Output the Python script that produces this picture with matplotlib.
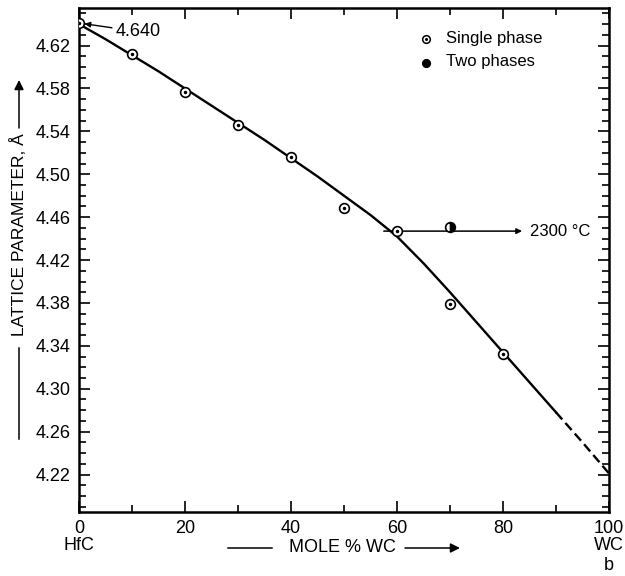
import matplotlib
matplotlib.use("Agg")
import matplotlib.pyplot as plt
from matplotlib.ticker import MultipleLocator

plt.rcParams['font.family'] = ['Liberation Sans', 'DejaVu Sans']

# Data
single_x = [0, 10, 20, 30, 40, 50, 60, 70, 80]
single_y = [4.641, 4.612, 4.577, 4.546, 4.516, 4.469, 4.447, 4.379, 4.332]
two_x = [70]
two_y = [4.451]
curve_x = [0, 5, 10, 15, 20, 25, 30, 35, 40, 45, 50, 55, 60, 65, 70, 75, 80, 85, 90]
curve_y = [4.640, 4.626, 4.611, 4.596, 4.580, 4.564, 4.548, 4.532, 4.515, 4.498,
           4.480, 4.462, 4.442, 4.417, 4.390, 4.362, 4.334, 4.306, 4.278]
dash_x = [90, 95, 100]
dash_y = [4.278, 4.250, 4.221]
xticks = [0, 20, 40, 60, 80, 100]
xticklabels = ['0', '20', '40', '60', '80', '100']
yticks = [4.22, 4.26, 4.30, 4.34, 4.38, 4.42, 4.46, 4.50, 4.54, 4.58, 4.62]
yticklabels = ['4.22', '4.26', '4.30', '4.34', '4.38', '4.42', '4.46', '4.50', '4.54', '4.58', '4.62']
temp_line_x = [57.5, 83.6]
temp_y = 4.447

fig = plt.figure(figsize=(6.25, 5.76), dpi=100)
ax = fig.add_axes([0.1264, 0.111, 0.848, 0.875])

ax.plot(curve_x, curve_y, color='black', lw=1.7, zorder=2, solid_joinstyle='round')
ax.plot(dash_x, dash_y, color='black', lw=1.7, ls=(0, (4, 2)), zorder=2)

# horizontal 2300 C line with arrow
ax.annotate('', xy=(temp_line_x[1], temp_y), xytext=(temp_line_x[0], temp_y),
            arrowprops=dict(arrowstyle='-|>', color='black', lw=1.1,
                            mutation_scale=8, shrinkA=0, shrinkB=0), zorder=2)
ax.text(temp_line_x[1] + 1.5, temp_y, '2300 °C', fontsize=12, va='center', ha='left')

# single phase points
ax.plot(single_x, single_y, ls='none', marker='o', ms=7, mfc='white', mec='black',
        mew=1.2, zorder=3)
ax.plot(single_x, single_y, ls='none', marker='o', ms=1.5, color='black', zorder=4)
# two phase point
ax.plot(two_x, two_y, ls='none', marker='o', ms=7, fillstyle='right', color='black',
        mfcalt='white', mew=1.2, zorder=3)

# 4.640 annotation
ax.annotate('4.640', xy=(0.8, 4.6405), xytext=(7.0, 4.633), fontsize=13,
            va='center', ha='left',
            arrowprops=dict(arrowstyle='-|>', color='black', lw=1.0,
                            mutation_scale=8, shrinkA=1, shrinkB=1))

# legend (manual)
ax.plot([65.5], [4.626], ls='none', marker='o', ms=5.5, mfc='white', mec='black', mew=1.1)
ax.plot([65.5], [4.626], ls='none', marker='o', ms=1.2, color='black')
ax.plot([65.5], [4.604], ls='none', marker='o', ms=5.5, fillstyle='right', color='black',
        mfcalt='black', mew=1.1)
ax.text(69.3, 4.627, 'Single phase', fontsize=12, va='center', ha='left')
ax.text(69.3, 4.605, 'Two phases', fontsize=12, va='center', ha='left')

ax.set_xlim(0, 100)
ax.set_ylim(4.185, 4.655)
ax.set_xticks(xticks)
ax.set_xticklabels(xticklabels, fontsize=13)
ax.set_yticks(yticks)
ax.set_yticklabels(yticklabels, fontsize=13)
ax.xaxis.set_minor_locator(MultipleLocator(10))
ax.yaxis.set_minor_locator(MultipleLocator(0.01))
ax.tick_params(which='both', direction='in', top=True, right=True, width=1.2)
ax.tick_params(which='major', length=8, pad=6)
ax.tick_params(which='minor', length=5)
for s in ax.spines.values():
    s.set_linewidth(1.8)

# axis labels with arrows
fig.text(79/625, 1-546/576, 'HfC', fontsize=13, ha='center', va='center')
fig.text(609/625, 1-546/576, 'WC', fontsize=13, ha='center', va='center')
fig.text(609/625, 1-566/576, 'b', fontsize=13, ha='center', va='center')
fig.text(342/625, 1-548/576, 'MOLE % WC', fontsize=13, ha='center', va='center')
fig.add_artist(matplotlib.patches.FancyArrowPatch((225/625, 1-548/576), (275/625, 1-548/576),
               transform=fig.transFigure, arrowstyle='-', color='black', lw=1.1))
fig.add_artist(matplotlib.patches.FancyArrowPatch((405/625, 1-548/576), (460/625, 1-548/576),
               transform=fig.transFigure, arrowstyle='-|>', mutation_scale=14,
               color='black', lw=1.1, shrinkA=0, shrinkB=0))

fig.text(19/625, 1-235/576, 'LATTICE PARAMETER, Å', fontsize=12.5, ha='center', va='center',
         rotation=90)
fig.add_artist(matplotlib.patches.FancyArrowPatch((19/625, 1-345/576), (19/625, 1-442/576),
               transform=fig.transFigure, arrowstyle='-', color='black', lw=1.1))
fig.add_artist(matplotlib.patches.FancyArrowPatch((19/625, 1-128/576), (19/625, 1-80/576),
               transform=fig.transFigure, arrowstyle='-|>', mutation_scale=14,
               color='black', lw=1.1, shrinkA=0, shrinkB=0))

fig.savefig('out.png', dpi=100)
